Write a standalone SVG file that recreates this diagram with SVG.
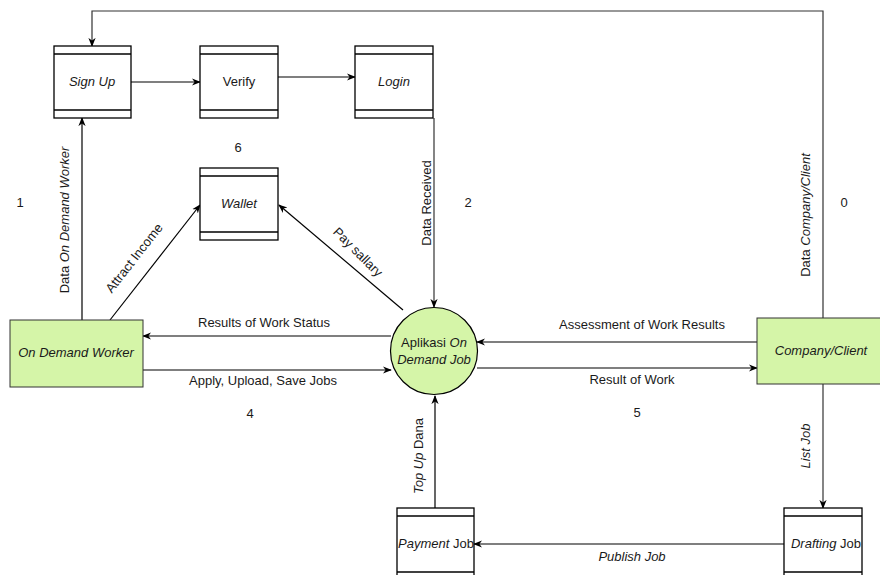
<svg xmlns="http://www.w3.org/2000/svg" width="880" height="575" viewBox="0 0 880 575">
  <style>
    text { font-family: "Liberation Sans", Arial, sans-serif; font-size: 13px; fill: #1a1a1a; }
    .c { text-anchor: middle; dominant-baseline: central; }
    .i { font-style: italic; }
    .store rect, .store line { fill: #ffffff; stroke: #000000; stroke-width: 1.3; }
    .store line { fill: none; }
    .ent { fill: #d5f5a8; stroke: #333333; stroke-width: 1; }
    .flow { fill: none; stroke: #000000; stroke-width: 1.2; marker-end: url(#arr); }
    .flowg { fill: none; stroke: #333333; stroke-width: 1.2; marker-end: url(#arr); }
  </style>
  <defs>
    <marker id="arr" viewBox="0 0 10 10" refX="9" refY="5" markerWidth="9" markerHeight="9" orient="auto" markerUnits="userSpaceOnUse">
      <path d="M0,1 L10,5 L0,9 L3,5 z" fill="#000000"/>
    </marker>
  </defs>
  <rect width="880" height="575" fill="#ffffff"/>

  <!-- connectors -->
  <g id="connectors">
    <path class="flow" d="M131,82 L200,82"/>
    <path class="flow" d="M278,77 L355,77"/>
    <path class="flow" d="M82,320 L82,118"/>
    <path class="flow" d="M110,320 L200,205"/>
    <path class="flow" d="M403,310 L279,205"/>
    <path class="flowg" d="M434,118 L434,307"/>
    <path class="flow" d="M391,336 L143,336"/>
    <path class="flow" d="M143,370 L391,370"/>
    <path class="flow" d="M757,342 L477,342"/>
    <path class="flow" d="M477,368 L757,368"/>
    <path class="flowg" d="M823,318 L823,11 L92,11 L92,46"/>
    <path class="flowg" d="M823,384 L823,508"/>
    <path class="flow" d="M784,544 L474,544"/>
    <path class="flow" d="M435,508 L435,396"/>

    <!-- connector labels -->
    <text class="c" transform="translate(64,220) rotate(-90)">Data <tspan class="i">On Demand Worker</tspan></text>
    <text class="c" transform="translate(134,258) rotate(-52)">Attract Income</text>
    <text class="c" transform="translate(358,252) rotate(45)">Pay sallary</text>
    <text class="c" transform="translate(426,203) rotate(-90)">Data Received</text>
    <text class="c" transform="translate(805,215) rotate(-90)">Data <tspan class="i">Company/Client</tspan></text>
    <text class="c i" transform="translate(805,446) rotate(-90)">List Job</text>
    <text class="c" transform="translate(418,456) rotate(-90)"><tspan class="i">Top Up</tspan> Dana</text>
    <text class="c" x="264" y="322">Results of Work Status</text>
    <text class="c" x="263" y="380">Apply, Upload, Save Jobs</text>
    <text class="c" x="642" y="324">Assessment of Work Results</text>
    <text class="c" x="632" y="379">Result of Work</text>
    <text class="c i" x="632" y="556">Publish Job</text>

    <!-- flow numbers -->
    <text class="c" x="20" y="202">1</text>
    <text class="c" x="238" y="147">6</text>
    <text class="c" x="468" y="202">2</text>
    <text class="c" x="844" y="202">0</text>
    <text class="c" x="250" y="413">4</text>
    <text class="c" x="637" y="412">5</text>
  </g>

  <!-- data stores -->
  <g id="signup" class="store">
    <rect x="54" y="46" width="77" height="72"/>
    <line x1="54" y1="54" x2="131" y2="54"/>
    <line x1="54" y1="110" x2="131" y2="110"/>
    <text class="c i" x="92" y="81">Sign Up</text>
  </g>
  <g id="verify" class="store">
    <rect x="200" y="46" width="78" height="72"/>
    <line x1="200" y1="54" x2="278" y2="54"/>
    <line x1="200" y1="110" x2="278" y2="110"/>
    <text class="c" x="239" y="81">Verify</text>
  </g>
  <g id="login" class="store">
    <rect x="355" y="46" width="78" height="72"/>
    <line x1="355" y1="54" x2="433" y2="54"/>
    <line x1="355" y1="110" x2="433" y2="110"/>
    <text class="c i" x="394" y="81">Login</text>
  </g>
  <g id="wallet" class="store">
    <rect x="200" y="168" width="78" height="72"/>
    <line x1="200" y1="176" x2="278" y2="176"/>
    <line x1="200" y1="232" x2="278" y2="232"/>
    <text class="c i" x="239" y="203">Wallet</text>
  </g>
  <g id="payment" class="store">
    <rect x="397" y="508" width="77" height="72"/>
    <line x1="397" y1="516" x2="474" y2="516"/>
    <line x1="397" y1="572" x2="474" y2="572"/>
    <text class="c" x="436" y="543"><tspan class="i">Payment</tspan> Job</text>
  </g>
  <g id="drafting" class="store">
    <rect x="784" y="508" width="78" height="72"/>
    <line x1="784" y1="516" x2="862" y2="516"/>
    <line x1="784" y1="572" x2="862" y2="572"/>
    <text class="c" x="826" y="543"><tspan class="i">Drafting</tspan> Job</text>
  </g>

  <!-- external entities -->
  <g id="worker">
    <rect class="ent" x="10" y="320" width="133" height="67"/>
    <text class="c i" x="76" y="352">On Demand Worker</text>
  </g>
  <g id="client">
    <rect class="ent" x="757" y="318" width="127" height="66"/>
    <text class="c i" x="821" y="350">Company/Client</text>
  </g>

  <!-- process -->
  <g id="process">
    <circle cx="434" cy="351" r="43.5" fill="#d5f5a8" stroke="#000000" stroke-width="1.2"/>
    <text class="c" x="434" y="342">Aplikasi <tspan class="i">On</tspan></text>
    <text class="c i" x="434" y="359">Demand Job</text>
  </g>
</svg>
